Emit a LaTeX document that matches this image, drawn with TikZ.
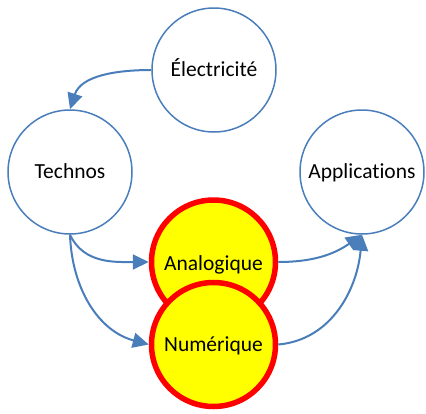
\documentclass[tikz,border=0pt]{standalone}
\usepackage{fontspec}
\setmainfont{Carlito}[Ligatures=NoCommon]
\usetikzlibrary{arrows.meta}
\definecolor{lineblue}{RGB}{74,126,187}
\definecolor{hired}{RGB}{255,0,0}
\definecolor{hiyellow}{RGB}{255,255,0}
\tikzset{
  basecircle/.style={circle, minimum size=124pt, inner sep=0pt, text height=13pt, text depth=0pt, font=\fontsize{21.5}{25}\selectfont},
  bluecircle/.style={basecircle, draw=lineblue, line width=1.5pt, fill=white},
  redcircle/.style={basecircle, draw=hired, line width=5.5pt, fill=hiyellow},
  conn/.style={draw=lineblue, line width=2pt, -{Triangle[length=16pt,width=15pt]}}
}
\begin{document}
\begin{tikzpicture}[x=1pt,y=-1pt]
\useasboundingbox (0,0) rectangle (426,413);
\node[bluecircle] (elec) at (214,70) {Électricité};
\node[bluecircle] (tech) at (70,172) {Technos};
\node[bluecircle] (app) at (362,172) {Applications};
\node[redcircle, text height=17pt] (ana) at (213.5,262) {Analogique};
\node[redcircle] (num) at (213.5,344.5) {Numérique};
\draw[conn] (elec.west) to[out=180,in=72] (tech.north);
\draw[conn] (tech.south) to[out=-65,in=180] (ana.west);
\draw[conn] (tech.south) to[out=-88,in=165] (num.west);
\draw[conn] (ana.east) to[out=0,in=-145] (app.south);
\draw[conn] (num.east) to[out=5,in=-95] (app.south);
\end{tikzpicture}
\end{document}
